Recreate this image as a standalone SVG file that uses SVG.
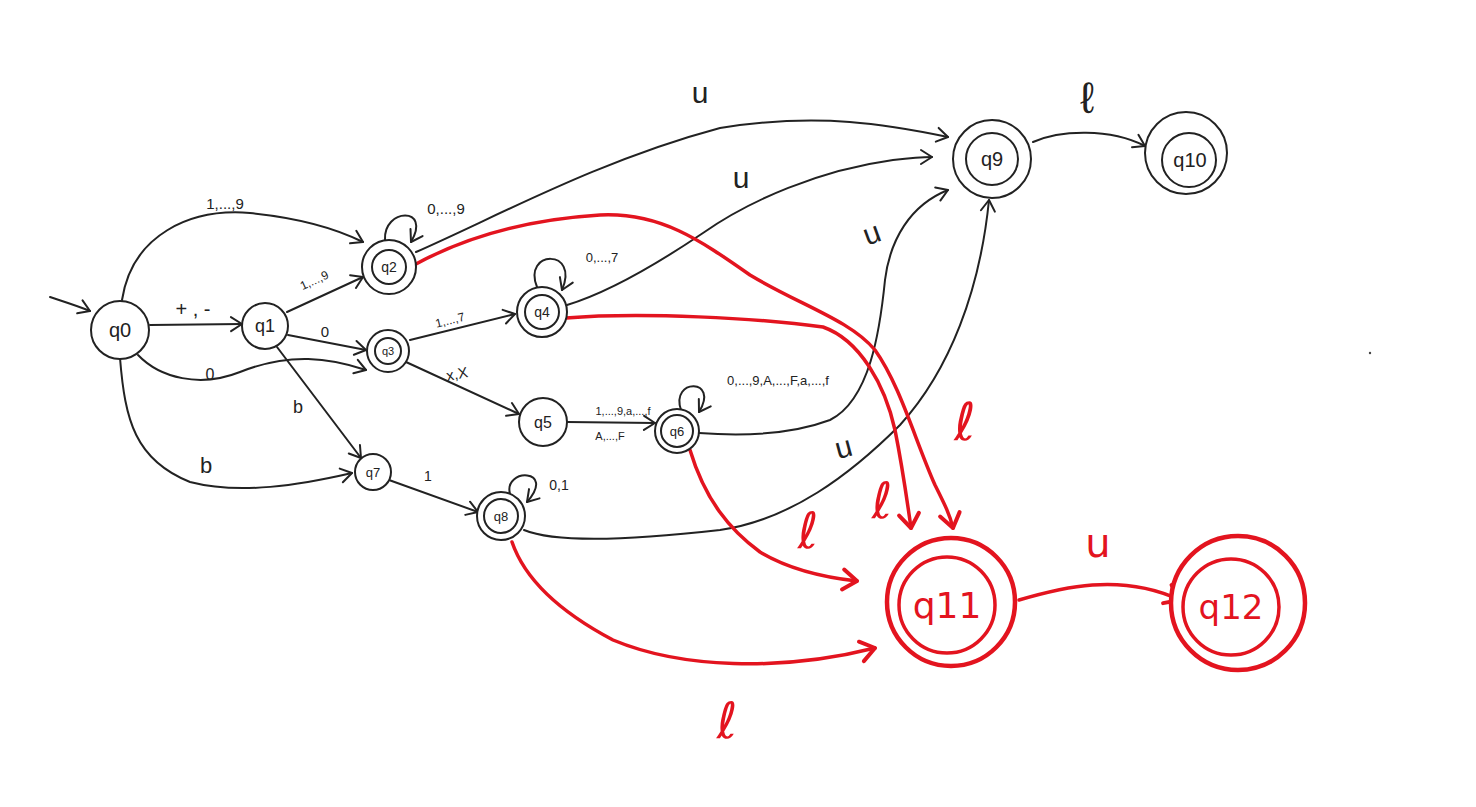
<svg xmlns="http://www.w3.org/2000/svg" width="1476" height="807" viewBox="0 0 1476 807">
  <style>
    .e { fill: none; stroke: #222; stroke-width: 2; stroke-linecap: round; }
    .r { fill: none; stroke: #e3141f; stroke-width: 3.5; stroke-linecap: round; }
    .n { fill: #fff; stroke: #222; stroke-width: 2; }
    .ni { fill: none; stroke: #222; stroke-width: 2; }
    .rn { fill: #fff; stroke: #e3141f; stroke-width: 4.5; }
    .rni { fill: none; stroke: #e3141f; stroke-width: 3.5; }
    .t { font-family: "Liberation Sans", "DejaVu Sans", sans-serif; fill: #222; text-anchor: middle; }
    .rt { font-family: "DejaVu Sans", "Liberation Sans", sans-serif; fill: #e3141f; text-anchor: middle; }
    .ea { marker-end: url(#ah); }
    .ra { marker-end: url(#rah); }
  </style>
  <defs>
    <marker id="ah" viewBox="-14 -10 16 20" refX="0" refY="0" markerWidth="16" markerHeight="20" markerUnits="userSpaceOnUse" orient="auto">
      <path d="M-11,-7 L0,0 L-11,7" fill="none" stroke="#222" stroke-width="2" stroke-linecap="round" stroke-linejoin="round"/>
    </marker>
    <marker id="rah" viewBox="-18 -14 22 28" refX="0" refY="0" markerWidth="22" markerHeight="28" markerUnits="userSpaceOnUse" orient="auto">
      <path d="M-14,-10 L0,0 L-14,10" fill="none" stroke="#e3141f" stroke-width="4" stroke-linecap="round" stroke-linejoin="round"/>
    </marker>
  </defs>
  <rect width="1476" height="807" fill="#fff"/>

  <!-- transitions -->
  <g id="connectors">
    <path class="e ea" d="M50,297 C65,302 78,306 90,311"/>
    <path class="e ea" d="M122,300 C132,235 190,208 250,213 C300,218 335,228 363,242"/>
    <path class="e ea" d="M150,325 L242,324"/>
    <path class="e ea" d="M138,355 C160,378 200,388 240,372 C290,352 330,358 366,370"/>
    <path class="e ea" d="M120,358 C125,420 135,460 190,482 C240,495 300,485 352,473"/>
    <path class="e ea" d="M287,312 L363,277"/>
    <path class="e ea" d="M288,335 L366,350"/>
    <path class="e ea" d="M277,347 L361,458"/>
    <path class="e ea" d="M385,240 C383,208 432,206 411,242"/>
    <path class="e ea" d="M416,252 C500,215 600,160 720,128 C820,112 890,125 948,137"/>
    <path class="e ea" d="M537,287 C522,250 580,248 562,290"/>
    <path class="e ea" d="M567,305 C610,292 660,262 703,233 C750,200 820,170 893,160 C910,158 920,157 932,157"/>
    <path class="e ea" d="M410,340 L515,314"/>
    <path class="e ea" d="M406,362 L519,414"/>
    <path class="e ea" d="M567,422 L655,423"/>
    <path class="e ea" d="M681,410 C670,378 720,378 699,412"/>
    <path class="e ea" d="M699,433 C740,436 790,435 830,420 C870,400 880,330 885,280 C890,240 910,205 948,190"/>
    <path class="e ea" d="M389,480 L478,512"/>
    <path class="e ea" d="M510,494 C503,468 557,468 527,502"/>
    <path class="e ea" d="M524,530 C560,545 650,538 720,530 C790,520 850,475 900,425 C950,370 980,290 989,200"/>
    <path class="e ea" d="M1033,142 C1060,130 1110,128 1145,146"/>

    <path class="r ra" d="M416,264 C460,240 520,220 600,215 C660,212 700,240 750,275 C800,305 850,320 875,350 C900,385 915,440 935,485 C945,505 950,515 953,528"/>
    <path class="r ra" d="M566,318 C640,312 760,318 823,327 C860,340 885,385 895,430 C903,470 907,500 911,528"/>
    <path class="r ra" d="M690,450 C705,500 730,530 760,552 C790,570 830,578 857,581"/>
    <path class="r ra" d="M512,542 C525,580 560,612 613,640 C680,668 780,672 875,648"/>
    <path class="r ra" d="M1019,600 C1060,588 1120,572 1180,600"/>
  </g>

  <!-- transition labels -->
  <g id="labels">
    <text class="t" x="225" y="209" font-size="15">1,...,9</text>
    <text class="t" x="193" y="316" font-size="20">+ , -</text>
    <text class="t" x="210" y="380" font-size="16">0</text>
    <text class="t" x="206" y="473" font-size="22">b</text>
    <text class="t" x="316" y="284" font-size="12" transform="rotate(-25 316 284)">1,...,9</text>
    <text class="t" x="325" y="337" font-size="15">0</text>
    <text class="t" x="298" y="413" font-size="18">b</text>
    <text class="t" x="446" y="214" font-size="15">0,...,9</text>
    <text class="t" x="602" y="262" font-size="13">0,...,7</text>
    <text class="t" x="451" y="324" font-size="12" transform="rotate(-14 451 324)">1,...,7</text>
    <text class="t" x="458" y="379" font-size="15" transform="rotate(-10 458 379)">x,X</text>
    <text class="t" x="623" y="415" font-size="11">1,...,9,a,...,f</text>
    <text class="t" x="610" y="440" font-size="11">A,...,F</text>
    <text class="t" x="778" y="385" font-size="13">0,...,9,A,...,F,a,...,f</text>
    <text class="t" x="428" y="481" font-size="14">1</text>
    <text class="t" x="559" y="490" font-size="14">0,1</text>
    <text class="t" x="700" y="103" font-size="30">u</text>
    <text class="t" x="741" y="188" font-size="30">u</text>
    <text class="t" x="875" y="243" font-size="30" transform="rotate(-20 875 243)">u</text>
    <text class="t" x="846" y="457" font-size="30" transform="rotate(-15 846 457)">u</text>
    <text class="t" x="1087" y="113" font-size="44" font-family="DejaVu Sans, sans-serif">ℓ</text>
    <text class="rt" x="1098" y="557" font-size="40">u</text>
    <text class="rt" x="965" y="440" font-size="52">ℓ</text>
    <text class="rt" x="882" y="518" font-size="50">ℓ</text>
    <text class="rt" x="808" y="548" font-size="50">ℓ</text>
    <text class="rt" x="727" y="738" font-size="50">ℓ</text>
  </g>

  <!-- states -->
  <g id="q0"><circle class="n" cx="120" cy="330" r="29"/><text class="t" x="120" y="337" font-size="20">q0</text></g>
  <g id="q1"><circle class="n" cx="265" cy="326" r="23"/><text class="t" x="265" y="332" font-size="18">q1</text></g>
  <g id="q2"><circle class="n" cx="389" cy="267" r="27"/><circle class="ni" cx="389" cy="267" r="17"/><text class="t" x="389" y="272" font-size="14">q2</text></g>
  <g id="q3"><circle class="n" cx="388" cy="351" r="21"/><circle class="ni" cx="388" cy="351" r="13"/><text class="t" x="388" y="355" font-size="11">q3</text></g>
  <g id="q4"><circle class="n" cx="542" cy="312" r="25"/><circle class="ni" cx="542" cy="312" r="17"/><text class="t" x="542" y="317" font-size="14">q4</text></g>
  <g id="q5"><circle class="n" cx="543" cy="422" r="24"/><text class="t" x="543" y="428" font-size="16">q5</text></g>
  <g id="q6"><circle class="n" cx="677" cy="431" r="22"/><circle class="ni" cx="677" cy="431" r="16"/><text class="t" x="677" y="436" font-size="13">q6</text></g>
  <g id="q7"><circle class="n" cx="373" cy="472" r="18"/><text class="t" x="373" y="477" font-size="13">q7</text></g>
  <g id="q8"><circle class="n" cx="501" cy="516" r="24"/><circle class="ni" cx="501" cy="516" r="17"/><text class="t" x="501" y="521" font-size="13">q8</text></g>
  <g id="q9"><circle class="n" cx="992" cy="159" r="39" stroke-width="1.8"/><circle class="ni" cx="992" cy="159" r="26" stroke-width="1.8"/><text class="t" x="992" y="166" font-size="20">q9</text></g>
  <g id="q10"><circle class="n" cx="1186" cy="153" r="41"/><circle class="ni" cx="1189" cy="160" r="27"/><text class="t" x="1190" y="167" font-size="20">q10</text></g>
  <g id="q11"><circle class="rn" cx="951" cy="602" r="64"/><circle class="rni" cx="947" cy="605" r="48"/><text class="rt" x="947" y="618" font-size="36">q11</text></g>
  <g id="q12"><circle class="rn" cx="1238" cy="603" r="67"/><circle class="rni" cx="1231" cy="607" r="48"/><text class="rt" x="1231" y="619" font-size="34">q12</text></g>

  <circle cx="1370" cy="353" r="1.2" fill="#444"/>
</svg>
